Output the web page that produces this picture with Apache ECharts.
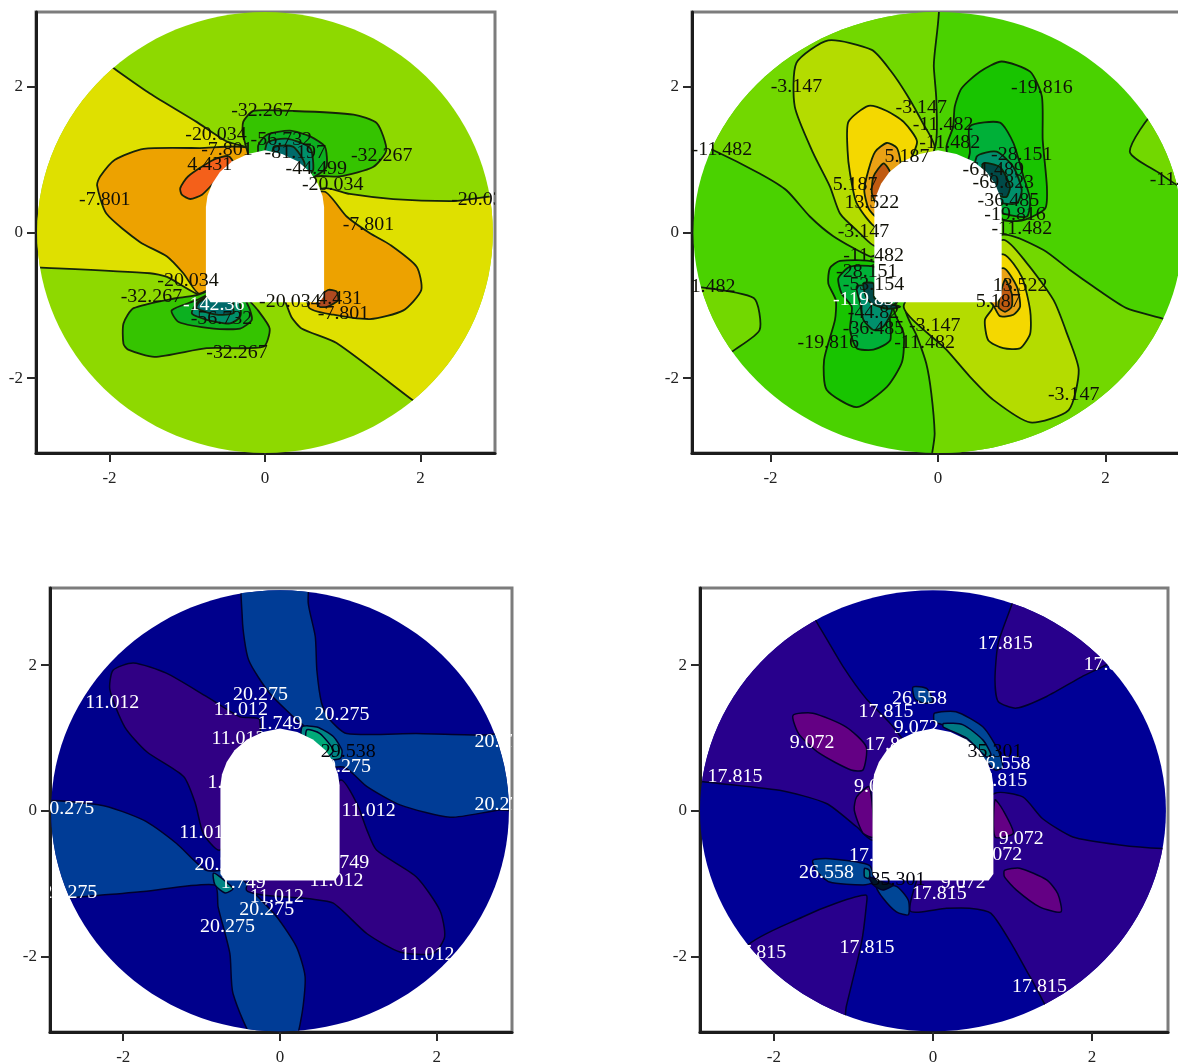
<!DOCTYPE html>
<html><head><meta charset="utf-8">
<style>html,body{margin:0;padding:0;background:#fff;overflow:hidden}#c{width:1178px;height:1062px}</style>
<script src="https://cdn.jsdelivr.net/npm/echarts@6/dist/echarts.min.js"></script>
</head><body><div id="c"></div>
<script>
// tick values shared by the four panels
const tickValues = [-2, 0, 2];
// opening outline (data units)
const tunnelOutline = [[-0.76,-0.87],[-0.7,-0.96],[0.7,-0.96],[0.76,-0.87],[0.76,0.35],[0.74,0.5],[0.68,0.67],[0.58,0.83],[0.42,0.98],[0.22,1.08],[0,1.13],[-0.22,1.08],[-0.42,0.98],[-0.58,0.83],[-0.68,0.67],[-0.74,0.5],[-0.76,0.35]];

// Panel A: [band, outline]
const regionsA = [
 [1,[[-2.12,2.39],[-1.95,2.26],[-1.48,1.91],[-0.88,1.52],[-0.49,1.25],[-0.11,1.11],[0.02,0.45],[-0.62,-0.86],[-0.88,-0.84],[-1.26,-0.61],[-1.48,-0.56],[-2.92,-0.48],[-3.19,-0.47],[-3.19,2.39]]],
 [1,[[3.45,0.45],[2.38,0.43],[1.65,0.46],[1.09,0.53],[0.77,0.61],[0.45,0.45],[0.11,-0.7],[0.26,-0.95],[0.34,-1.16],[0.47,-1.32],[0.92,-1.52],[1.93,-2.33],[2.17,-2.51],[3.45,-2.51]]],
 [2,[[-0.15,1.14],[-0.84,1.16],[-1.56,1.15],[-1.93,1.0],[-2.12,0.77],[-2.16,0.65],[-2.04,0.26],[-1.61,-0.13],[-1.26,-0.33],[-1.05,-0.56],[-0.84,-0.84],[-0.41,-0.47],[-0.19,0.45]]],
 [2,[[0.77,0.56],[1.05,0.22],[1.35,-0.01],[1.61,-0.17],[1.95,-0.47],[2.01,-0.79],[1.78,-1.07],[1.35,-1.19],[0.88,-1.13],[0.56,-1.02],[0.45,0.45]]],
 [3,[[-1.09,0.61],[-0.99,0.77],[-0.66,1.0],[-0.47,1.05],[-0.41,0.95],[-0.66,0.68],[-0.81,0.52],[-0.96,0.46],[-1.07,0.52]]],
 [8,[[0.66,-0.93],[0.81,-0.79],[0.92,-0.81],[0.94,-0.93],[0.8,-1.02],[0.7,-1.02]]],
 [4,[[-0.28,1.32],[-0.28,1.52],[-0.15,1.67],[0.36,1.67],[1.14,1.62],[1.44,1.5],[1.56,1.13],[1.39,0.9],[0.96,0.77],[0.66,0.77],[0.02,0.45]]],
 [5,[[-0.09,1.18],[0.02,1.34],[0.32,1.4],[0.58,1.32],[0.77,1.18],[0.79,0.9],[0.64,0.77],[0.02,0.45]]],
 [6,[[0.02,1.22],[0.28,1.29],[0.58,1.16],[0.62,0.86],[0.54,0.77],[0.02,0.45]]],
 [7,[[0.11,1.16],[0.36,1.18],[0.51,0.95],[0.45,0.81],[0.02,0.45]]],
 [4,[[-0.88,-0.86],[-1.13,-0.9],[-1.69,-1.04],[-1.82,-1.25],[-1.82,-1.53],[-1.76,-1.61],[-1.42,-1.71],[-0.75,-1.59],[-0.02,-1.57],[0.06,-1.32],[-0.09,-1.07],[-0.19,-0.95],[-0.4,-0.7]]],
 [5,[[-0.88,-0.93],[-1.2,-1.07],[-1.11,-1.23],[-0.66,-1.32],[-0.32,-1.32],[-0.17,-1.2],[-0.21,-1.02],[-0.4,-0.7]]],
 [6,[[-0.86,-0.95],[-0.94,-1.11],[-0.75,-1.2],[-0.45,-1.25],[-0.32,-1.16],[-0.32,-1.0],[-0.4,-0.7]]],
 [7,[[-0.84,-0.95],[-0.88,-1.04],[-0.62,-1.13],[-0.41,-1.11],[-0.41,-1.0],[-0.4,-0.7]]]
];
const coloursA = ['#8ed900','#dfe000','#eda200','#f4601a','#35c400','#0cb020','#00906a','#006a6a','#b04a20'];
const labelsA = [['-32.267',-0.04,1.67],['-20.034',-0.63,1.34],['-56.732',0.21,1.27],['-81.197',0.39,1.09],['-44.499',0.66,0.87],['-32.267',1.5,1.05],['-20.034',0.87,0.65],['4.431',-0.71,0.93],['-7.801',-2.06,0.44],['-7.801',-0.49,1.13],['-7.801',1.33,0.1],['-20.034',2.79,0.45],['-20.034',-0.99,-0.67],['-32.267',-1.46,-0.89],['-56.732',-0.56,-1.19],['-20.034',0.32,-0.96],['4.431',0.96,-0.91],['-7.801',1.01,-1.12],['-32.267',-0.36,-1.66]];
const whiteLabelsA = [['-142.36',-0.66,-1.0]];

// Panel B
const regionsB = [
 [1,[[-0.06,3.43],[-0.05,2.28],[-0.02,1.82],[-0.04,1.16],[-0.53,0.45],[-0.73,-0.29],[-0.81,-0.33],[-1.25,-0.05],[-1.53,0.22],[-1.81,0.58],[-2.13,0.81],[-2.68,1.13],[-3.08,1.32],[-3.08,3.43]]],
 [1,[[-0.05,-3.45],[-0.04,-2.76],[-0.08,-2.21],[-0.14,-1.8],[-0.25,-1.43],[-0.39,-1.04],[-0.14,-0.47],[0.78,-0.03],[1.26,-0.24],[1.58,-0.52],[1.85,-0.74],[2.25,-1.04],[2.73,-1.2],[3.25,-1.48],[3.25,-3.45]]],
 [1,[[2.61,1.68],[3.1,1.68],[3.1,0.6],[2.89,0.63],[2.65,0.81],[2.29,1.11]]],
 [1,[[-2.92,-0.74],[-2.2,-0.9],[-2.13,-1.34],[-2.46,-1.64],[-2.72,-1.89],[-3.24,-1.89],[-3.24,-0.74]]],
 [2,[[-1.31,2.64],[-0.79,2.51],[-0.57,2.23],[-0.37,1.89],[-0.18,1.5],[-0.04,1.16],[-0.33,0.45],[-0.73,-0.19],[-0.97,0.03],[-1.17,0.26],[-1.29,0.63],[-1.49,1.09],[-1.71,1.73],[-1.69,2.33]]],
 [3,[[-0.83,1.74],[-1.07,1.52],[-1.08,1.13],[-1.05,0.81],[-0.97,0.4],[-0.73,0.08],[-0.37,0.9],[-0.25,1.25],[-0.41,1.52],[-0.61,1.67]]],
 [4,[[-0.61,1.23],[-0.75,1.11],[-0.83,0.86],[-0.88,0.58],[-0.83,0.33],[-0.73,0.22],[-0.45,0.9],[-0.49,1.16]]],
 [5,[[-0.65,0.95],[-0.77,0.77],[-0.79,0.54],[-0.73,0.4],[-0.57,0.81]]],
 [2,[[0.78,-0.1],[1.06,-0.42],[1.38,-0.93],[1.54,-1.39],[1.68,-1.89],[1.56,-2.44],[1.1,-2.61],[0.66,-2.3],[0.38,-1.98],[0.1,-1.61],[-0.41,-1.02],[0.06,-0.47]]],
 [3,[[0.78,-0.3],[1.0,-0.61],[1.1,-1.07],[1.1,-1.39],[0.98,-1.59],[0.78,-1.59],[0.6,-1.48],[0.56,-1.2],[0.66,-1.0],[0.26,-0.47]]],
 [4,[[0.78,-0.49],[0.94,-0.74],[0.98,-1.02],[0.9,-1.13],[0.74,-1.15],[0.66,-1.0],[0.46,-0.7]]],
 [5,[[0.8,-0.65],[0.88,-0.84],[0.88,-1.02],[0.8,-1.09],[0.72,-1.02]]],
 [6,[[0.76,2.35],[1.1,2.21],[1.24,1.87],[1.25,1.27],[1.3,0.63],[1.28,0.33],[1.02,0.17],[0.78,0.17],[0.26,0.45],[0.1,1.16],[0.18,1.45],[0.2,1.73],[0.28,1.98],[0.5,2.21]]],
 [7,[[0.38,1.46],[0.74,1.51],[0.9,1.23],[1.02,0.77],[1.1,0.45],[1.06,0.22],[0.78,0.26],[0.26,0.45],[0.38,1.09]]],
 [8,[[0.46,1.04],[0.7,1.11],[0.9,0.9],[1.0,0.58],[0.94,0.4],[0.78,0.4],[0.46,0.45]]],
 [9,[[0.54,0.95],[0.74,0.9],[0.86,0.63],[0.82,0.49],[0.74,0.5],[0.54,0.7]]],
 [6,[[-1.29,-0.49],[-1.17,-0.39],[-0.77,-0.4],[-0.33,-0.7],[-0.53,-1.04],[-0.41,-1.39],[-0.43,-1.78],[-0.61,-2.12],[-0.97,-2.4],[-1.33,-2.16],[-1.36,-1.75],[-1.23,-1.2],[-1.22,-0.93],[-1.31,-0.7]]],
 [7,[[-1.19,-0.63],[-1.05,-0.47],[-0.77,-0.47],[-0.33,-0.7],[-0.57,-1.07],[-0.57,-1.48],[-0.77,-1.61],[-0.97,-1.59],[-1.05,-1.34],[-1.03,-1.02],[-1.15,-0.84]]],
 [8,[[-0.97,-0.74],[-0.77,-0.74],[-0.6,-0.8],[-0.55,-1.07],[-0.65,-1.29],[-0.77,-1.34],[-0.89,-1.2],[-0.93,-0.97]]],
 [9,[[-0.89,-0.7],[-0.77,-0.7],[-0.76,-0.9],[-0.6,-0.97],[-0.45,-1.02],[-0.6,-1.05],[-0.79,-0.98],[-0.86,-0.88]]]
];
const coloursB = ['#4ad200','#72d800','#b4dc00','#f4d800','#eaa214','#c05a10','#18c400','#00b038','#00906c','#004a48'];
const labelsB = [['-3.147',-1.69,2.0],['-19.816',1.24,1.98],['-3.147',-0.2,1.71],['-11.482',0.06,1.48],['-11.482',0.14,1.23],['-11.482',-2.58,1.14],['-28.151',1.0,1.07],['5.187',-0.37,1.04],['-61.489',0.66,0.86],['-69.823',0.78,0.68],['5.187',-0.99,0.65],['13.522',-0.79,0.41],['-36.485',0.84,0.43],['-19.816',0.92,0.24],['-11.482',1.0,0.05],['-3.147',-0.89,0],['-11.482',-0.77,-0.32],['-28.151',-0.85,-0.54],['-53.154',-0.77,-0.72],['-44.82',-0.77,-1.11],['-36.485',-0.77,-1.32],['-3.147',-0.04,-1.29],['-19.816',-1.31,-1.52],['-11.482',-0.16,-1.52],['13.522',0.98,-0.74],['5.187',0.72,-0.96],['-3.147',1.62,-2.23],['-11.482',2.89,0.72],['-11.482',-2.78,-0.75]];
const whiteLabelsB = [['-119.83',-0.89,-0.93]];

// Panel C
const regionsC = [
 [1,[[-0.45,3.58],[-0.48,2.62],[-0.4,2.07],[-0.13,1.61],[0.17,1.29],[0.34,1.11],[0.26,0.56],[0.81,0.6],[1.11,0.33],[1.53,0.08],[2.17,-0.09],[2.81,0.01],[3.32,0.01],[3.32,1.06],[2.59,1.04],[1.74,1.06],[0.85,1.06],[0.62,1.27],[0.53,1.48],[0.47,1.93],[0.45,2.39],[0.36,2.85],[0.34,3.58]]],
 [1,[[-3.23,0.08],[-2.3,0.08],[-1.74,-0.13],[-1.32,-0.45],[-0.94,-0.82],[-0.6,-0.82],[-0.3,-1.16],[-0.04,-1.46],[0.21,-1.87],[0.32,-2.28],[0.28,-2.79],[0.17,-3.2],[-0.3,-3.2],[-0.6,-2.51],[-0.64,-1.96],[-0.79,-1.32],[-0.83,-1.02],[-1.74,-1.11],[-2.3,-1.16],[-3.23,-1.16]]],
 [2,[[-0.26,1.25],[-0.51,1.29],[-0.94,1.57],[-1.45,1.89],[-1.87,2.03],[-2.13,1.93],[-2.17,1.66],[-1.98,1.15],[-1.7,0.81],[-1.23,0.47],[-1.08,0.1],[-0.98,-0.31],[-0.77,-0.54],[-0.34,0.1]]],
 [2,[[0.77,0.42],[0.98,0.1],[1.11,-0.27],[1.23,-0.54],[1.74,-0.91],[2.04,-1.37],[2.1,-1.73],[1.96,-1.96],[1.53,-1.94],[1.11,-1.69],[0.68,-1.27],[0.38,-1.21],[-0.43,-1.09],[0.04,-0.36]]],
 [3,[[0.28,1.15],[0.47,1.15],[0.68,1.02],[0.79,0.83],[0.77,0.72],[0.6,0.7],[0.3,0.8]]],
 [4,[[0.34,1.11],[0.51,1.06],[0.68,0.83],[0.6,0.74],[0.35,0.85]]],
 [3,[[-0.85,-0.86],[-0.74,-0.93],[-0.6,-1.07],[-0.7,-1.13],[-0.83,-1.02]]]
];
const coloursC = ['#00008c','#003c96','#300084','#008484','#00aa78'];
const labelsC = [['20.275',-0.25,1.59],['11.012',-0.5,1.38],['1.749',0,1.19],['11.012',-2.14,1.48],['20.275',0.79,1.31],['11.012',-0.53,0.99],['20.275',0.81,0.6],['20.275',2.83,0.95],['1.749',-0.64,0.38],['20.275',2.83,0.08],['20.275',-2.72,0.02],['11.012',1.13,0],['11.012',-0.94,-0.31],['20.275',-0.74,-0.75],['1.749',0.85,-0.72],['20.275',-2.68,-1.13],['1.749',-0.47,-0.99],['11.012',0.72,-0.96],['11.012',-0.04,-1.18],['20.275',-0.17,-1.37],['20.275',-0.67,-1.6],['11.012',1.88,-1.98]];
const blackLabelsC = [['29.538',0.87,0.81]];

// Panel D
const regionsD = [
 [1,[[-1.64,2.85],[-1.43,2.53],[-1.13,1.98],[-0.84,1.54],[-0.5,1.15],[-0.17,0.56],[-0.75,-0.4],[-0.96,-0.22],[-1.34,0.1],[-1.93,0.28],[-2.93,0.4],[-3.52,0.47],[-3.52,2.85]]],
 [1,[[1.05,3.54],[1.05,3.08],[0.99,2.83],[0.82,2.3],[0.78,1.8],[0.82,1.5],[1.05,1.41],[1.43,1.57],[1.87,1.84],[2.31,2.09],[2.98,2.85],[2.14,3.54]]],
 [1,[[0.78,0.24],[1.13,0.19],[1.38,-0.11],[1.76,-0.36],[2.35,-0.47],[2.89,-0.52],[3.61,-0.54],[3.61,-3.11],[1.72,-3.11],[1.22,-2.28],[1.01,-1.87],[0.73,-1.41],[0.46,-1.34],[0.17,-1.34],[-0.29,-1.37],[0.04,-0.36]]],
 [1,[[-0.84,-1.16],[-0.84,-1.32],[-0.9,-1.82],[-1.09,-2.69],[-1.17,-3.11],[-2.89,-3.11],[-2.35,-1.87],[-1.64,-1.46],[-1.22,-1.27]]],
 [2,[[-1.76,1.31],[-1.51,1.34],[-1.09,1.15],[-0.84,0.88],[-0.88,0.56],[-1.03,0.56],[-1.43,0.79],[-1.69,1.06]]],
 [2,[[-0.96,0.19],[-0.8,0.33],[-0.75,-0.36],[-0.88,-0.31],[-0.99,0.01]]],
 [2,[[0.9,-0.82],[1.09,-0.79],[1.43,-0.95],[1.57,-1.14],[1.61,-1.39],[1.34,-1.32],[1.05,-1.09],[0.9,-0.91]]],
 [2,[[0.78,0.15],[0.88,0.01],[1.01,-0.31],[0.78,-0.36]]],
 [3,[[-0.25,1.7],[-0.08,1.68],[0,1.5],[-0.13,1.48],[-0.23,1.54]]],
 [3,[[0.02,1.34],[0.29,1.36],[0.63,1.15],[0.82,0.83],[0.88,0.6],[0.78,0.56],[0.46,0.93],[0.21,1.15],[0.02,1.22]]],
 [4,[[0.13,1.2],[0.38,1.18],[0.63,0.97],[0.73,0.77],[0.67,0.74],[0.42,1.0],[0.13,1.15]]],
 [3,[[-1.51,-0.68],[-1.3,-0.66],[-0.8,-0.75],[-0.75,-0.98],[-0.88,-1.02],[-1.3,-0.98],[-1.47,-0.82]]],
 [3,[[-0.71,-1.04],[-0.46,-1.04],[-0.31,-1.23],[-0.31,-1.43],[-0.46,-1.39],[-0.63,-1.2]]],
 [4,[[-0.86,-0.79],[-0.8,-0.82],[-0.8,-0.93],[-0.86,-0.91]]],
 [5,[[-0.8,-0.91],[-0.63,-0.98],[-0.5,-1.02],[-0.63,-1.09],[-0.75,-1.02]]]
];
const coloursD = ['#000096','#28008c','#640084','#004696','#007a84','#001428'];
const labelsD = [['17.815',0.91,2.29],['17.815',2.24,2.0],['26.558',-0.17,1.54],['17.815',-0.59,1.35],['9.072',-0.21,1.13],['9.072',-1.52,0.93],['17.815',-0.51,0.9],['26.558',0.88,0.64],['17.815',0.84,0.41],['17.815',-2.49,0.47],['9.072',-0.71,0.32],['9.072',1.11,-0.39],['9.072',0.84,-0.61],['17.815',-0.71,-0.62],['26.558',-1.34,-0.86],['9.072',0.38,-1.0],['17.815',0.08,-1.15],['17.815',-2.19,-1.95],['17.815',-0.83,-1.89],['17.815',1.34,-2.42]];
const blackLabelsD = [['35.301',0.78,0.81],['35.301',-0.44,-0.95]];

const panels = [
 {rect:{left:36,top:12,width:459,height:441},xr:[-2.945,2.958],yr:[-3.03,3.03],disc:[2.93,3.03],regions:regionsA,colours:coloursA,labels:[[labelsA,'#101008'],[whiteLabelsA,'#ffffff']],line:'#16240a',lw:1.8},
 {rect:{left:692,top:12,width:490,height:441},xr:[-2.937,2.913],yr:[-3.03,3.03],disc:[2.92,3.03],regions:regionsB,colours:coloursB,labels:[[labelsB,'#101008'],[whiteLabelsB,'#ffffff']],line:'#0e2408',lw:1.8},
 {rect:{left:50,top:588,width:462,height:444},xr:[-2.934,2.959],yr:[-3.04,3.06],disc:[2.92,3.03],regions:regionsC,colours:coloursC,labels:[[labelsC,'#ffffff'],[blackLabelsC,'#000008']],line:'#00002c',lw:1.5},
 {rect:{left:700,top:588,width:468,height:444},xr:[-2.93,2.956],yr:[-3.04,3.06],disc:[2.93,3.03],regions:regionsD,colours:coloursD,labels:[[labelsD,'#ffffff'],[blackLabelsD,'#000008']],line:'#00002c',lw:1.5}
];

const chart = echarts.init(document.getElementById('c'), null, {renderer:'canvas'});
const axisFont = {fontFamily:'"Liberation Serif"',fontSize:17,color:'#222222',fontWeight:'normal'};
const grids=[],xAxes=[],yAxes=[],series=[];
panels.forEach((p,k)=>{
  grids.push(Object.assign({show:true,borderColor:'#7c7c7c',borderWidth:3,backgroundColor:'#fff',outerBoundsMode:'none',containLabel:false},p.rect));
  const common={type:'value',splitLine:{show:false},axisLine:{show:true,onZero:false,lineStyle:{color:'#1c1c1c',width:3}},
    axisTick:{show:true,length:9,inside:false,customValues:tickValues,lineStyle:{color:'#2a2a2a',width:2}}};
  xAxes.push(Object.assign({},common,{gridIndex:k,min:p.xr[0],max:p.xr[1],position:'bottom',axisLabel:Object.assign({margin:17,customValues:tickValues},axisFont)}));
  yAxes.push(Object.assign({},common,{gridIndex:k,min:p.yr[0],max:p.yr[1],position:'left',axisLabel:Object.assign({margin:13,customValues:tickValues},axisFont)}));
  const base={type:'custom',xAxisIndex:k,yAxisIndex:k,coordinateSystem:'cartesian2d',silent:true,animation:false,clip:true,encode:{x:0,y:1}};
  const ellipse=(api)=>{const c=api.coord([0,0]),e=api.coord([p.disc[0],p.disc[1]]);return {cx:c[0],cy:c[1],rx:Math.abs(e[0]-c[0]),ry:Math.abs(e[1]-c[1])};};
  // base disc
  series.push(Object.assign({},base,{name:'disc'+k,z:2,data:[[0,0]],renderItem:(params,api)=>({type:'ellipse',shape:ellipse(api),style:{fill:p.colours[0]}})}));
  // contour bands
  series.push(Object.assign({},base,{name:'bands'+k,z:3,data:p.regions.map(r=>r[1][0]),renderItem:(params,api)=>{
    const r=p.regions[params.dataIndex];
    return {type:'polygon',shape:{points:r[1].map(q=>api.coord(q)),smooth:0.22},style:{fill:p.colours[r[0]],stroke:p.line,lineWidth:p.lw},
      clipPath:{type:'ellipse',shape:ellipse(api)}};
  }}));
  // opening
  series.push(Object.assign({},base,{name:'opening'+k,z:4,data:[tunnelOutline[0]],renderItem:(params,api)=>({type:'polygon',shape:{points:tunnelOutline.map(q=>api.coord(q))},style:{fill:'#ffffff'}})}));
  // text labels
  p.labels.forEach((set,j)=>{
    series.push(Object.assign({},base,{name:'labels'+k+'_'+j,z:5,data:set[0].map(l=>[l[1],l[2]]),renderItem:(params,api)=>{
      const l=set[0][params.dataIndex],c=api.coord([l[1],l[2]]);
      return {type:'text',x:c[0],y:c[1],scaleX:1.05,style:{text:l[0],x:0,y:0,fill:set[1],font:'19px "Liberation Serif"',align:'center',verticalAlign:'middle'}};
    }}));
  });
});
chart.setOption({animation:false,backgroundColor:'#fff',grid:grids,xAxis:xAxes,yAxis:yAxes,series});
</script></body></html>
